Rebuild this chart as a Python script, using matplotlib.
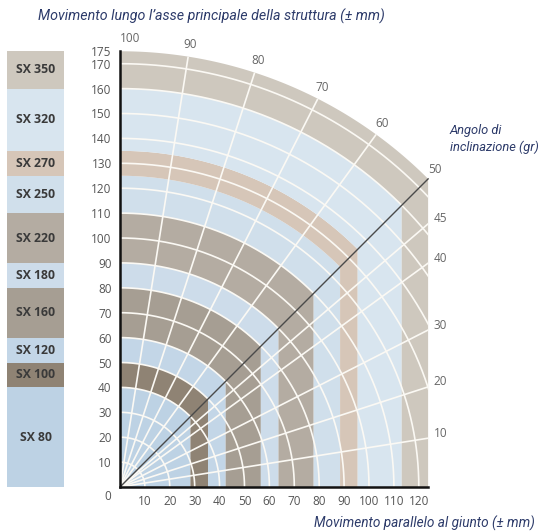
import numpy as np
import matplotlib
matplotlib.use("Agg")
import matplotlib.pyplot as plt
from matplotlib.patches import Polygon

# ---- data ----
series = ['SX 80', 'SX 100', 'SX 120', 'SX 160', 'SX 180', 'SX 220', 'SX 250', 'SX 270', 'SX 320', 'SX 350']
band_lo = [0, 40, 50, 60, 80, 90, 110, 125, 135, 160]
band_hi = [40, 50, 60, 80, 90, 110, 125, 135, 160, 175]
band_colors = ['#bdd2e4', '#8f8374', '#c3d6e7', '#a69e93', '#cddcea', '#b4aca2',
               '#d0dfeb', '#d6c6b8', '#d8e5ef', '#cec8be']
y_ticks = [10, 20, 30, 40, 50, 60, 70, 80, 90, 100, 110, 120, 130, 140, 150, 160, 170, 175]
x_ticks = [10, 20, 30, 40, 50, 60, 70, 80, 90, 100, 110, 120]
circle_radii = [10, 20, 30, 40, 50, 60, 70, 80, 90, 100, 110, 120, 130, 140, 150, 160, 170]
spoke_gon = [10, 20, 30, 40, 45, 60, 70, 80, 90]
top_angle_labels = [100, 90, 80, 70, 60, 50]
right_angle_labels = [45, 40, 30, 20, 10]

R = 175.0
X = R / np.sqrt(2)
navy = '#2d3b6a'
tick_col = '#555555'
font_main = ['Open Sans', 'DejaVu Sans']
font_title = ['Roboto', 'DejaVu Sans']

fig = plt.figure(figsize=(5.42, 5.32), dpi=100)
W, H = 542, 532
px = 2.49
ax = fig.add_axes([120 / W, 45 / H, 124 * px / W, 176 * px / H])
ax.set_xlim(0, 124)
ax.set_ylim(0, 176)
ax.set_aspect('auto')

def band_poly(r_in, r_out):
    xi, xo = r_in / np.sqrt(2), r_out / np.sqrt(2)
    th_out = np.linspace(np.pi / 4, np.pi / 2, 80)
    th_in = th_out[::-1]
    pts = [(xo, 0), (xo, xo)]
    pts += list(zip(r_out * np.cos(th_out), r_out * np.sin(th_out)))
    pts += list(zip(r_in * np.cos(th_in), r_in * np.sin(th_in)))
    pts += [(xi, xi), (xi, 0)]
    return pts

for lo, hi, c in zip(band_lo, band_hi, band_colors):
    ax.add_patch(Polygon(band_poly(lo, hi), closed=True, facecolor=c, edgecolor='none', zorder=1))

clip = Polygon(band_poly(0, R), closed=True, transform=ax.transData, facecolor='none', edgecolor='none')
ax.add_patch(clip)

th = np.linspace(0, np.pi / 2, 300)
for r in circle_radii:
    ln, = ax.plot(r * np.cos(th), r * np.sin(th), color='#fbf9f4', lw=1.2, zorder=2)
    ln.set_clip_path(clip)
for g in spoke_gon:
    a = np.deg2rad(g * 0.9)
    ln, = ax.plot([0, 300 * np.cos(a)], [0, 300 * np.sin(a)], color='#fbf9f4', lw=1.2, zorder=2)
    ln.set_clip_path(clip)

ax.plot([0, X], [0, X], color='#4a4a4a', lw=1.0, zorder=3)

for s in ['top', 'right']:
    ax.spines[s].set_visible(False)
ax.spines['left'].set_bounds(0, R)
ax.spines['bottom'].set_bounds(0, X)
for s in ['left', 'bottom']:
    ax.spines[s].set_linewidth(1.8)
    ax.spines[s].set_color('#111111')
    ax.spines[s].set_zorder(4)

ax.set_yticks(y_ticks)
ax.set_yticklabels([str(v) for v in y_ticks])
ax.set_xticks(x_ticks)
ax.set_xticklabels([str(v) for v in x_ticks])
ax.tick_params(length=0, labelsize=8.5, labelcolor=tick_col, pad=6)
for lab in ax.get_xticklabels() + ax.get_yticklabels():
    lab.set_family(font_main)
ax.text(-5, -4, '0', ha='center', va='center', fontsize=8.5, color=tick_col,
        family=font_main, clip_on=False)

for g in top_angle_labels:
    a = np.deg2rad(g * 0.9)
    xx, yy = 179 * np.cos(a), 179 * np.sin(a)
    if g == 100:
        xx = 4
    ax.text(xx, yy + 1, str(g), ha='center', va='center', fontsize=8.5, color='#666666',
            family=font_main, clip_on=False)
for g in right_angle_labels:
    a = np.deg2rad(g * 0.9)
    ax.text(X + 5, X * np.tan(a) + 2, str(g), ha='center', va='center', fontsize=8.5,
            color='#666666', family=font_main, clip_on=False)

# legend column
lax = fig.add_axes([7 / W, 45 / H, 57 / W, 176 * px / H])
lax.set_xlim(0, 1)
lax.set_ylim(0, 176)
lax.axis('off')
for name, lo, hi, c in zip(series, band_lo, band_hi, band_colors):
    lax.bar(0.5, hi - lo, bottom=lo, width=1.0, color=c, edgecolor='none')
    lax.text(0.5, (lo + hi) / 2, name, ha='center', va='center', fontsize=8.8,
             fontweight='bold', color='#3a3a3a', family=font_main)

fig.text(38 / W, 1 - 16 / H, "Movimento lungo l\u2019asse principale della struttura (\u00b1 mm)",
         ha='left', va='center', fontsize=10.3, style='italic', color=navy, family=font_title)
fig.text(535 / W, 1 - 523 / H, "Movimento parallelo al giunto (\u00b1 mm)",
         ha='right', va='center', fontsize=9.8, style='italic', color=navy, family=font_title)
fig.text(450 / W, 1 - 139 / H, "Angolo di\ninclinazione (gr)", ha='left', va='center',
         fontsize=9.3, style='italic', color=navy, family=font_title, linespacing=1.25)

fig.savefig('out.png', dpi=100)
